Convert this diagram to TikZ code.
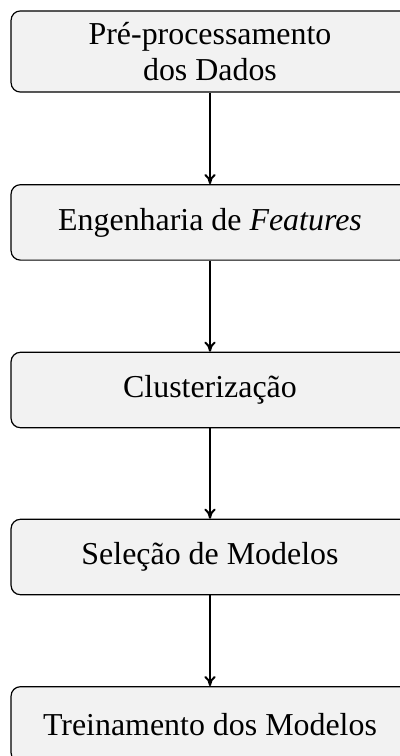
\documentclass[tikz,border=0pt]{standalone}
\usepackage{fontspec}
\setmainfont{Liberation Serif}
\usetikzlibrary{arrows.meta}
\begin{document}
\begin{tikzpicture}[x=0.376pt,y=-0.376pt,
  stepbox/.style={draw=black, line width=0.45pt, fill=gray!10, rounded corners=3.5pt,
    minimum width=149.6pt, minimum height=28.35pt, align=center, inner sep=0pt,
    font=\fontsize{12}{13.8}\selectfont},
  flow/.style={-{To[length=3.8pt,width=4.2pt]}, line width=0.75pt}]
\useasboundingbox (0,0) rectangle (400,756);
\node[stepbox, minimum height=30.5pt] (pre) at (210,51.5) {Pré-processamento\\dos Dados};
\node[stepbox] (feat) at (210,222.4) {Engenharia de \textit{Features}};
\node[stepbox] (clus) at (210,390) {Clusterização};
\node[stepbox] (sel) at (210,557) {Seleção de Modelos};
\node[stepbox] (trein) at (210,724.4) {Treinamento dos Modelos};
\draw[flow] (pre) -- (feat);
\draw[flow] (feat) -- (clus);
\draw[flow] (clus) -- (sel);
\draw[flow] (sel) -- (trein);
\end{tikzpicture}
\end{document}
